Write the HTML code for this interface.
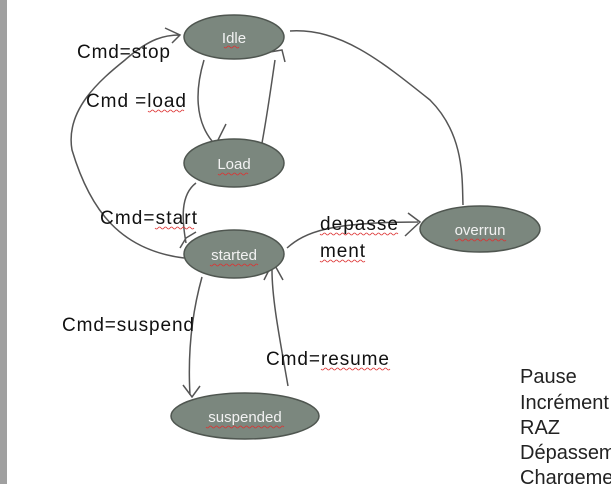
<!DOCTYPE html>
<html><head><meta charset="utf-8"><style>
html,body{margin:0;padding:0;background:#fff;width:611px;height:484px;overflow:hidden}
svg{display:block}
.lbl{font-family:"Liberation Sans",sans-serif;font-size:19px;fill:#111}
.st{font-family:"Liberation Sans",sans-serif;font-size:15px;fill:#f2f2f2;text-anchor:middle}
.e{fill:#7b877e;stroke:#4f5650;stroke-width:1.5}
.c{fill:none;stroke:#555;stroke-width:1.5}
.w{fill:none;stroke:#d33;stroke-width:0.8}
.side{font-family:"Liberation Sans",sans-serif;font-size:20px;fill:#222}
</style></head><body>
<svg width="611" height="484" viewBox="0 0 611 484">
<rect x="0" y="0" width="7" height="484" fill="#a0a0a0"/>
<g>
<path class="c" d="M290,31 C340,28 380,60 430,100 C465,135 462,180 463,205"/>
<path class="c" d="M204,60 C195,90 195,120 212,141"/>
<path class="c" d="M217,142 L226,124"/>
<path class="c" d="M262,143 C268,110 272,80 275,60 M270,52 L282,50 L285,62"/>
<path class="c" d="M196,183 C180,195 182,220 186,243 M180,248 L186,238 L196,232"/>
<path class="c" d="M184,258 C120,250 90,210 72,150 C65,110 100,80 125,60 C150,38 165,35 180,35 M165,28 L180,35 L172,43"/>
<path class="c" d="M287,248 C305,232 330,222 418,222 M408,213 L420,222 L405,236"/>
<path class="c" d="M202,277 C190,320 188,360 190,395 M183,385 L192,397 L200,386"/>
<path class="c" d="M288,386 C280,340 272,300 272,270 M264,280 L273,262 L283,280"/>
</g>
<g>
<ellipse class="e" cx="234" cy="37" rx="50" ry="22"/>
<text class="st" x="234" y="43">Idle</text>
<path class="w" d="M224,47 q1.5,2 3,0 t3,0 t3,0 t3,0 t3,0"/>
<ellipse class="e" cx="234" cy="163" rx="50" ry="24"/>
<text class="st" x="234" y="169">Load</text>
<path class="w" d="M218,174 q1.5,2 3,0 t3,0 t3,0 t3,0 t3,0 t3,0 t3,0 t3,0 t3,0 t3,0"/>
<ellipse class="e" cx="234" cy="254" rx="50" ry="24"/>
<text class="st" x="234" y="260">started</text>
<path class="w" d="M210,265 q1.5,2 3,0 t3,0 t3,0 t3,0 t3,0 t3,0 t3,0 t3,0 t3,0 t3,0 t3,0 t3,0 t3,0 t3,0 t3,0 t3,0"/>
<ellipse class="e" cx="480" cy="229" rx="60" ry="23"/>
<text class="st" x="480" y="235">overrun</text>
<path class="w" d="M455,240 q1.5,2 3,0 t3,0 t3,0 t3,0 t3,0 t3,0 t3,0 t3,0 t3,0 t3,0 t3,0 t3,0 t3,0 t3,0 t3,0 t3,0 t3,0"/>
<ellipse class="e" cx="245" cy="416" rx="74" ry="23"/>
<text class="st" x="245" y="422">suspended</text>
<path class="w" d="M206,427 q1.5,2 3,0 t3,0 t3,0 t3,0 t3,0 t3,0 t3,0 t3,0 t3,0 t3,0 t3,0 t3,0 t3,0 t3,0 t3,0 t3,0 t3,0 t3,0 t3,0 t3,0 t3,0 t3,0 t3,0 t3,0 t3,0 t3,0"/>
</g>
<g>
<text class="lbl" x="77" y="58" textLength="93">Cmd=stop</text>
<text class="lbl" x="86" y="107" textLength="100">Cmd  =load</text>
<path class="w" d="M148,111 q1.5,2 3,0 t3,0 t3,0 t3,0 t3,0 t3,0 t3,0 t3,0 t3,0 t3,0 t3,0 t3,0"/>
<text class="lbl" x="100" y="224" textLength="97">Cmd=start</text>
<path class="w" d="M155,228 q1.5,2 3,0 t3,0 t3,0 t3,0 t3,0 t3,0 t3,0 t3,0 t3,0 t3,0 t3,0 t3,0 t3,0"/>
<text class="lbl" x="320" y="230" textLength="78">depasse</text>
<path class="w" d="M320,234 q1.5,2 3,0 t3,0 t3,0 t3,0 t3,0 t3,0 t3,0 t3,0 t3,0 t3,0 t3,0 t3,0 t3,0 t3,0 t3,0 t3,0 t3,0 t3,0 t3,0 t3,0 t3,0 t3,0 t3,0 t3,0 t3,0 t3,0"/>
<text class="lbl" x="320" y="257" textLength="45">ment</text>
<path class="w" d="M320,261 q1.5,2 3,0 t3,0 t3,0 t3,0 t3,0 t3,0 t3,0 t3,0 t3,0 t3,0 t3,0 t3,0 t3,0 t3,0 t3,0"/>
<text class="lbl" x="62" y="331" textLength="132">Cmd=suspend</text>
<text class="lbl" x="266" y="365" textLength="123">Cmd=resume</text>
<path class="w" d="M321,369 q1.5,2 3,0 t3,0 t3,0 t3,0 t3,0 t3,0 t3,0 t3,0 t3,0 t3,0 t3,0 t3,0 t3,0 t3,0 t3,0 t3,0 t3,0 t3,0 t3,0 t3,0 t3,0 t3,0 t3,0"/>
</g>
<g>
<text class="side" x="520" y="383">Pause</text>
<text class="side" x="520" y="409">Incrément</text>
<text class="side" x="520" y="434">RAZ</text>
<text class="side" x="520" y="459">Dépassement</text>
<text class="side" x="520" y="484">Chargement</text>
</g>
</svg>
</body></html>
